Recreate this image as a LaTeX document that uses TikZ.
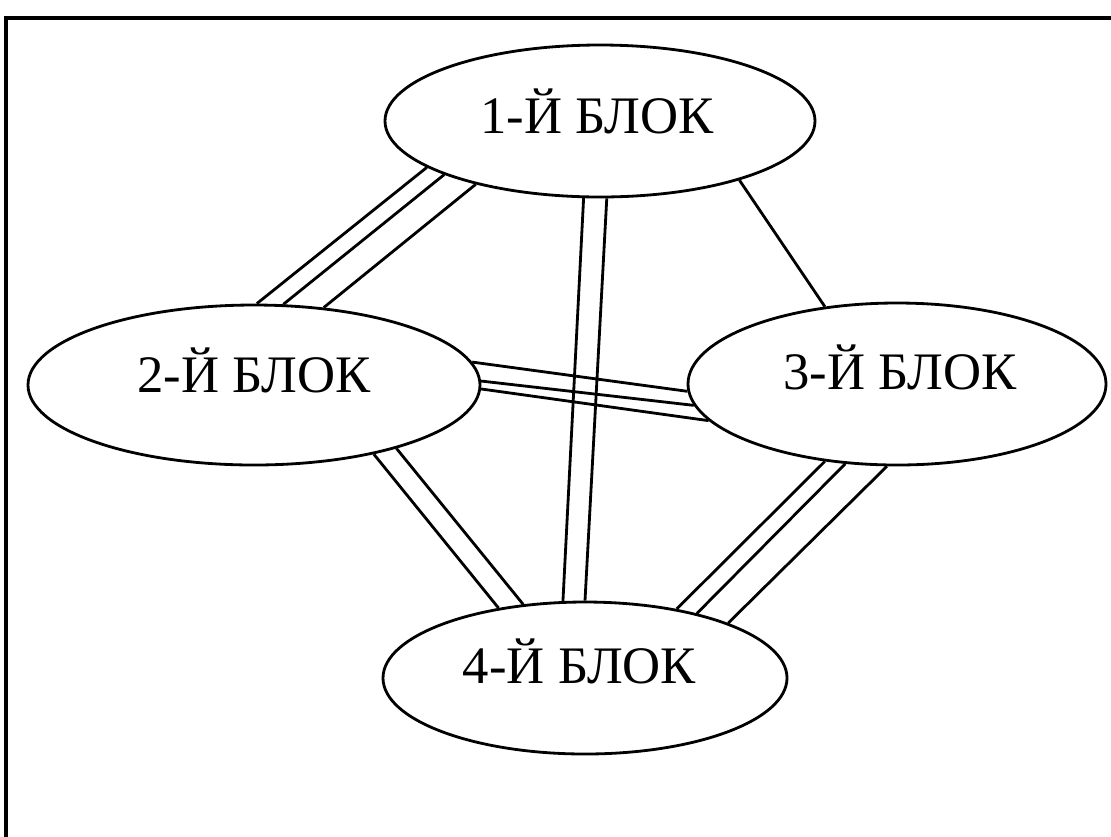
\documentclass[tikz,border=0pt]{standalone}
\usepackage{fontspec}
\setmainfont{Liberation Serif}
\usetikzlibrary{shapes}
\tikzstyle{block}=[ellipse,draw,line width=1.6pt,inner sep=0pt]
\tikzstyle{link} = [draw,line width=1.6pt]
\tikzstyle{caption} = [font=\fontsize{30}{34}\selectfont,inner sep=0pt,text height=19.9pt,text depth=0pt]

\begin{document}
\begin{tikzpicture}[x=0.02cm,y=-0.02cm]

\useasboundingbox (0,0) rectangle (1111,836);

% frame
\draw[line width=1.9pt] (6,900) -- (6,18) -- (1200,18);

    \foreach \pos/ \name/ \w/ \h/ \dx/ \dy/ \num in {{(600,121)/b1/430/152/-3/4.5/1}, {(254,385)/b2/452/160/0/10/2}, {(897,384)/b3/418/162/3/11.5/3}, {(585,678)/b4/404/152/-5.5/11.5/4}}
        \node[block,minimum width=\w*0.02cm,minimum height=\h*0.02cm,
              label={[caption,xshift=\dx*0.02cm,yshift=\dy*0.02cm]center:\num-Й БЛОК}] (\name) at \pos {};

    % Connect blocks with single, double and triple lines
    \foreach \source/ \dest in {b1.195/b2.88, b1.199/b2.70, b1.207/b2.48}
        \path[link] (\source) -- (\dest);

    \foreach \source/ \dest in {b1.258.5/b4.106.8, b1.275.4/b4.90}
        \path[link] (\source) -- (\dest);

    \path[link] (b1.337.4) -- (b3.133.5);

    \foreach \source/ \dest in {b2.6/b3.182.2, b2.1.25/b3.186.5, b2.-1.7/b3.191.8}
        \path[link] (\source) -- (\dest);

    \foreach \source/ \dest in {b2.330/b4.141.1, b2.336.3/b4.130.9}
        \path[link] (\source) -- (\dest);

    \foreach \source/ \dest in {b3.227.4/b4.37.9, b3.237/b4.30.3, b3.263/b4.21.1}
        \path[link] (\source) -- (\dest);

\end{tikzpicture}
\end{document}
